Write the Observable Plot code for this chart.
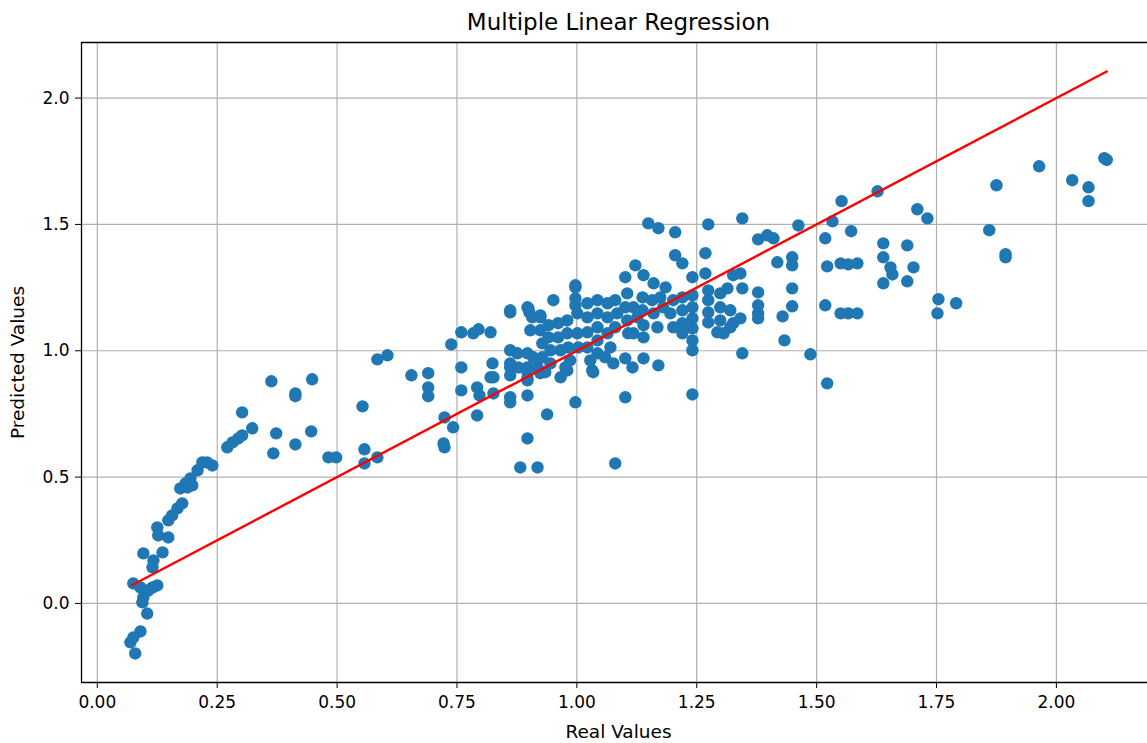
<!DOCTYPE html>
<html>
<head>
<meta charset="utf-8">
<script src="https://cdn.jsdelivr.net/npm/d3@7"></script>
<script src="https://cdn.jsdelivr.net/npm/@observablehq/plot@0.6"></script>
<style>
  html, body { margin: 0; padding: 0; background: #fff; overflow: hidden; }
  #chart svg { display: block; }
</style>
</head>
<body>
<div id="chart"></div>
<script>
// Observed (real) target values
const realValues = [
  // low end
  0.079, 0.069, 0.090, 0.075, 0.104, 0.094, 0.096, 0.075, 0.090, 0.125,
  0.115, 0.106, 0.096, 0.117, 0.115, 0.136, 0.125, 0.127, 0.148, 0.148,
  0.156, 0.167, 0.177, 0.173, 0.184, 0.194, 0.188, 0.198, 0.209, 0.219,
  0.229, 0.240, 0.271, 0.282, 0.294, 0.302, 0.323, 0.302, 0.373, 0.367,
  0.363, 0.413, 0.413, 0.448, 0.413, 0.446, 0.482, 0.498, 0.553, 0.557,
  0.557, 0.584, 0.584, 0.605, 0.655, 0.690, 0.690, 0.690, 0.724, 0.742,
  0.722, 0.724, 0.738, 0.759, 0.784, 0.795, 0.759, 0.759, 0.792, 0.797,
  0.792, 0.820, 0.824, 0.820, 0.826, 0.861, 0.897, 0.901, 0.924, 0.951,
  0.997, 0.997, 0.997, 0.861, 0.861, 0.861, 0.861, 0.897, 0.897, 0.861,
  0.861, 0.897, 0.938, 0.897, 0.882, 0.918, 0.997, 1.101, 1.080, 0.966,
  0.980, 0.826,
  // central cluster
  1.149, 1.170, 1.205, 1.274, 1.345, 1.462, 1.378, 1.397, 1.410, 1.205,
  1.220, 1.268, 1.268, 1.241, 1.122, 1.101, 1.139, 1.160, 1.418, 1.449,
  1.449, 1.449, 1.449, 1.429, 1.433, 1.345, 1.345, 1.378, 1.378, 1.378,
  1.378, 1.326, 1.341, 1.314, 1.299, 1.299, 1.299, 1.320, 1.326, 1.341,
  1.293, 1.306, 1.320, 1.274, 1.274, 1.274, 1.274, 1.241, 1.241, 1.241,
  1.241, 1.241, 1.241, 1.220, 1.220, 1.220, 1.220, 1.201, 1.195, 1.201,
  1.185, 1.174, 1.180, 1.157, 1.160, 1.168, 1.137, 1.137, 1.139, 1.139,
  1.118, 1.126, 1.118, 1.105, 1.101, 1.105, 1.107, 1.080, 1.084, 1.080,
  1.064, 1.064, 1.064, 1.070, 1.043, 1.043, 1.043, 1.043, 1.043, 1.022,
  1.022, 1.022, 1.022, 1.028, 0.997, 1.001, 1.001, 1.003, 0.980, 0.980,
  0.982, 0.986, 0.961, 0.961, 0.966, 0.941, 0.941, 0.945, 0.945, 0.924,
  0.924, 0.928, 0.928, 0.899, 0.907, 0.903, 0.897, 0.897, 0.897, 0.861,
  0.876, 0.878, 0.909, 0.918, 0.924, 0.976, 1.032, 1.059, 1.076, 1.101,
  1.116, 1.139, 1.170, 1.241, 0.934, 1.034,
  // high end
  2.100, 2.105, 1.964, 2.033, 2.067, 2.067, 1.875, 1.860, 1.894, 1.894,
  1.710, 1.731, 1.627, 1.552, 1.533, 1.572, 1.518, 1.639, 1.689, 1.639,
  1.654, 1.658, 1.702, 1.639, 1.689, 1.522, 1.550, 1.566, 1.585, 1.487,
  1.522, 1.518, 1.550, 1.566, 1.585, 1.754, 1.752, 1.791
];

// Values predicted by the regression model
const predictedValues = [
  // low end
  -0.198, -0.154, -0.111, -0.135, -0.040, 0.004, 0.024, 0.079, 0.063, 0.071,
  0.063, 0.051, 0.198, 0.170, 0.143, 0.202, 0.301, 0.269, 0.261, 0.329,
  0.348, 0.376, 0.396, 0.455, 0.475, 0.495, 0.459, 0.467, 0.527, 0.558,
  0.558, 0.546, 0.618, 0.637, 0.653, 0.665, 0.693, 0.756, 0.673, 0.594,
  0.879, 0.831, 0.820, 0.887, 0.629, 0.681, 0.578, 0.578, 0.780, 0.610,
  0.554, 0.578, 0.966, 0.982, 0.903, 0.911, 0.855, 0.820, 0.736, 0.697,
  0.633, 0.618, 1.025, 1.073, 1.069, 1.085, 0.934, 0.843, 0.855, 0.823,
  0.744, 1.073, 0.950, 0.895, 0.831, 1.152, 1.172, 1.152, 1.132, 1.200,
  1.259, 1.207, 1.180, 1.002, 0.950, 0.934, 0.903, 0.915, 0.891, 0.816,
  0.796, 0.823, 0.748, 0.653, 0.538, 0.538, 0.796, 0.816, 0.554, 0.895,
  0.922, 0.895,
  // central cluster
  1.504, 1.485, 1.469, 1.500, 1.524, 1.496, 1.441, 1.457, 1.445, 1.378,
  1.346, 1.386, 1.306, 1.291, 1.338, 1.291, 1.299, 1.267, 1.350, 1.370,
  1.338, 1.247, 1.176, 1.136, 1.041, 0.990, 1.247, 1.231, 1.180, 1.148,
  1.128, 1.299, 1.306, 1.247, 1.227, 1.172, 1.120, 1.160, 1.109, 1.128,
  1.073, 1.069, 1.093, 1.239, 1.200, 1.152, 1.112, 1.219, 1.172, 1.128,
  1.089, 1.041, 1.002, 1.211, 1.160, 1.109, 1.069, 1.200, 1.148, 1.093,
  1.251, 1.211, 1.172, 1.200, 1.148, 1.093, 1.211, 1.160, 1.101, 1.053,
  1.172, 1.132, 1.069, 1.227, 1.172, 1.120, 1.069, 1.200, 1.148, 1.093,
  1.188, 1.132, 1.069, 1.013, 1.200, 1.148, 1.093, 1.041, 0.990, 1.188,
  1.132, 1.073, 1.013, 0.962, 1.251, 1.148, 1.069, 1.013, 1.120, 1.069,
  1.013, 0.962, 1.109, 1.053, 1.002, 1.101, 1.053, 1.002, 0.950, 1.140,
  1.081, 1.029, 0.974, 1.168, 1.132, 1.081, 0.990, 0.934, 0.883, 1.160,
  0.990, 0.934, 0.974, 0.934, 0.911, 0.934, 0.922, 0.974, 0.950, 0.970,
  0.934, 0.970, 0.942, 0.827, 0.915, 0.915,
  // high end
  1.762, 1.755, 1.730, 1.675, 1.647, 1.592, 1.655, 1.477, 1.382, 1.370,
  1.560, 1.524, 1.631, 1.592, 1.512, 1.473, 1.445, 1.425, 1.417, 1.370,
  1.330, 1.302, 1.330, 1.267, 1.275, 1.334, 1.346, 1.342, 1.346, 0.986,
  0.871, 1.180, 1.148, 1.148, 1.148, 1.204, 1.148, 1.188
];

// Perfect-prediction reference line spans the observed range
const idealLine = [0.072, 2.105];

const xTicks = [0, 0.25, 0.5, 0.75, 1.0, 1.25, 1.5, 1.75, 2.0];
const yTicks = [0, 0.5, 1.0, 1.5, 2.0];
const xDomain = [-0.033, 2.190];
const yDomain = [-0.313, 2.220];

const chartTitle = "Multiple Linear Regression";
const xLabel = "Real Values";
const yLabel = "Predicted Values";

const points = realValues.map((r, i) => ({real: r, predicted: predictedValues[i]}));
const linePts = idealLine.map(v => ({real: v, predicted: v}));

const chart = Plot.plot({
  width: 1147,
  height: 743,
  marginTop: 42,
  marginLeft: 81,
  marginRight: 0,
  marginBottom: 61,
  style: {fontFamily: "DejaVu Sans, sans-serif", fontSize: "17px", color: "#000", background: "#fff"},
  x: {domain: xDomain},
  y: {domain: yDomain},
  marks: [
    Plot.gridX(xTicks, {stroke: "#b0b0b0", strokeOpacity: 1, strokeWidth: 1.2}),
    Plot.gridY(yTicks, {stroke: "#b0b0b0", strokeOpacity: 1, strokeWidth: 1.2}),
    Plot.axisX(xTicks, {tickFormat: d3.format(".2f"), tickSize: 6, tickPadding: 7, label: null, fontSize: 17, stroke: "#000"}),
    Plot.axisY(yTicks, {tickFormat: d3.format(".1f"), tickSize: 6, tickPadding: 6, label: null, fontSize: 17, stroke: "#000"}),
    Plot.ruleX([xDomain[0]], {stroke: "#000", strokeWidth: 1.3}),
    Plot.ruleY([yDomain[0], yDomain[1]], {stroke: "#000", strokeWidth: 1.3}),
    Plot.dot(points, {x: "real", y: "predicted", r: 6.2, fill: "#1f77b4", stroke: "none"}),
    Plot.line(linePts, {x: "real", y: "predicted", stroke: "#ff0000", strokeWidth: 2.4}),
    Plot.text([chartTitle], {frameAnchor: "top", lineAnchor: "middle", dy: -20, dx: 4, fontSize: 23, fill: "#000"}),
    Plot.text([xLabel], {frameAnchor: "bottom", lineAnchor: "middle", dy: 50, dx: 4, fontSize: 18.5, fill: "#000"}),
    Plot.text([yLabel], {frameAnchor: "left", textAnchor: "middle", lineAnchor: "middle", dx: -63, rotate: -90, fontSize: 18.5, fill: "#000"})
  ]
});

document.getElementById("chart").appendChild(chart);
</script>
</body>
</html>
